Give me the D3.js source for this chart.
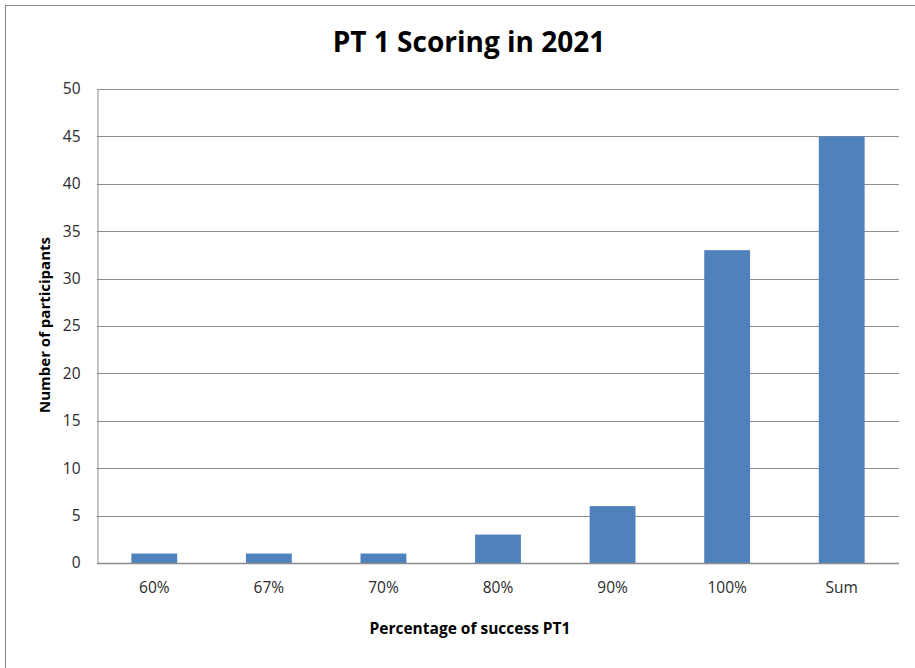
<!DOCTYPE html>
<html>
<head>
<meta charset="utf-8">
<script src="https://cdn.jsdelivr.net/npm/d3@7"></script>
<style>
	body { margin: 0; background: #fff; }
	svg { display: block; font-family: "Open Sans", "Noto Sans", sans-serif; }
</style>
</head>
<body>
<svg id="chart" width="915" height="668"></svg>
<script>
"use strict";

// data
var categories = ["60%", "67%", "70%", "80%", "90%", "100%", "Sum"];
var participants = [1, 1, 1, 3, 6, 33, 45];
var yTicks = [0, 5, 10, 15, 20, 25, 30, 35, 40, 45, 50];

var svg = d3.select("#chart");

// outer chart border
svg.append("rect")
	.attr("x", 5.5).attr("y", 5.5)
	.attr("width", 915).attr("height", 668)
	.attr("fill", "none")
	.attr("stroke", "#878787");

var plot = { left: 97, right: 899, top: 89, bottom: 563 };

var x = d3.scaleBand()
	.domain(categories)
	.range([plot.left, plot.right])
	.paddingInner(0.6)
	.paddingOuter(0.3);

var y = d3.scaleLinear()
	.domain([0, 50])
	.range([plot.bottom, plot.top]);

// horizontal gridlines
svg.append("g")
	.selectAll("line")
	.data(yTicks.filter(function(d) { return d > 0; }))
	.join("line")
	.attr("x1", plot.left).attr("x2", plot.right)
	.attr("y1", function(d) { return Math.round(y(d)) + 0.5; })
	.attr("y2", function(d) { return Math.round(y(d)) + 0.5; })
	.attr("stroke", "#8c8c8c")
	.attr("stroke-width", 1);

// bars
svg.append("g")
	.selectAll("rect")
	.data(categories)
	.join("rect")
	.attr("x", function(d) { return x(d); })
	.attr("width", x.bandwidth())
	.attr("y", function(d, i) { return y(participants[i]); })
	.attr("height", function(d, i) { return y(0) - y(participants[i]); })
	.attr("fill", "#4f81bd");

// y axis
var yAxis = svg.append("g")
	.attr("transform", "translate(" + (plot.left + 0.5) + ",0)")
	.call(d3.axisLeft(y).tickValues(yTicks).tickSize(0).tickPadding(17));
yAxis.select(".domain").attr("stroke", "#8c8c8c");
yAxis.selectAll("text")
	.attr("font-size", 15.5)
	.attr("fill", "#2b2b2b")
	.style("font-family", "Open Sans, sans-serif");

// x axis
var xAxis = svg.append("g")
	.attr("transform", "translate(0," + (Math.round(y(0)) + 0.5) + ")")
	.call(d3.axisBottom(x).tickSize(0).tickPadding(18));
xAxis.select(".domain").attr("stroke", "#8c8c8c").attr("stroke-width", 1.5)
	.attr("d", "M" + plot.left + ",0H" + plot.right);
xAxis.selectAll("text")
	.attr("font-size", 15.5)
	.attr("fill", "#2b2b2b")
	.style("font-family", "Open Sans, sans-serif");

// title
svg.append("text")
	.attr("x", 469).attr("y", 52)
	.attr("text-anchor", "middle")
	.attr("font-size", 28)
	.attr("font-weight", "bold")
	.attr("fill", "#000")
	.text("PT 1 Scoring in 2021");

// axis titles
svg.append("text")
	.attr("x", 470).attr("y", 634)
	.attr("text-anchor", "middle")
	.attr("font-size", 15.5)
	.attr("font-weight", "bold")
	.text("Percentage of success PT1");

svg.append("text")
	.attr("transform", "translate(50,325) rotate(-90)")
	.attr("text-anchor", "middle")
	.attr("font-size", 15)
	.attr("font-weight", "bold")
	.text("Number of participants");
</script>
</body>
</html>
